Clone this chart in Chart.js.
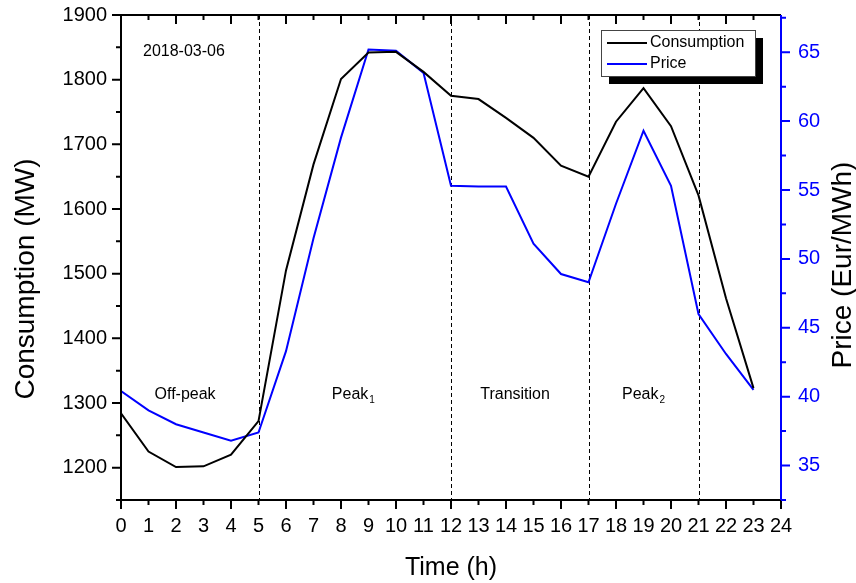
<!DOCTYPE html>
<html>
<head>
<meta charset="utf-8">
<script src="https://cdn.jsdelivr.net/npm/chart.js@4.4.1/dist/chart.umd.min.js"></script>
<style>
  html, body { margin: 0; padding: 0; background: #fff; }
  #wrap { width: 856px; height: 583px; }
</style>
</head>
<body>
<div id="wrap"><canvas id="c" width="856" height="583"></canvas></div>
<script>
// hourly data, 2018-03-06
var hours = [0, 1, 2, 3, 4, 5, 6, 7, 8, 9, 10, 11, 12, 13, 14, 15, 16, 17, 18, 19, 20, 21, 22, 23];
var consumption = [1284, 1225, 1201, 1202, 1220, 1272, 1505, 1669, 1801, 1842, 1843, 1812, 1775, 1770, 1741, 1710, 1667, 1650, 1735, 1787, 1728, 1621, 1462, 1323];
var price = [40.4, 39.0, 38.0, 37.4, 36.8, 37.4, 43.3, 51.5, 58.8, 65.2, 65.1, 63.5, 55.3, 55.25, 55.25, 51.1, 48.9, 48.3, 54.0, 59.3, 55.3, 46.0, 43.1, 40.5];

var xTicks = [0, 1, 2, 3, 4, 5, 6, 7, 8, 9, 10, 11, 12, 13, 14, 15, 16, 17, 18, 19, 20, 21, 22, 23, 24];
var consTicks = [1200, 1300, 1400, 1500, 1600, 1700, 1800, 1900];
var priceTicks = [35, 40, 45, 50, 55, 60, 65];
var periodBounds = [5, 12, 17, 21];
var periodNames = ['Off-peak', 'Peak', 'Transition', 'Peak'];
var periodSubs = ['', '1', '', '2'];
var dateLabel = '2018-03-06';
var leftTitle = 'Consumption (MW)';
var rightTitle = 'Price (Eur/MWh)';

var FONT = 'Arial, "Liberation Sans", sans-serif';

function pts(vals) {
  return hours.map(function (h, i) { return { x: h, y: vals[i] }; });
}

function fixTicks(list) {
  return function (scale) {
    scale.ticks = list.map(function (v) { return { value: v }; });
  };
}

function plain(v) { return String(v); }

// fixed scale sizes, no extra label padding so the plot box lands where the original has it
function fitV(w) {
  return function (s) { s.width = w; s.paddingTop = 0; s.paddingBottom = 0; };
}
function fitH(hgt) {
  return function (s) { s.height = hgt; s.paddingLeft = 0; s.paddingRight = 0; };
}

var decor = {
  id: 'decor',
  beforeDatasetsDraw: function (chart) {
    var ctx = chart.ctx, a = chart.chartArea, x = chart.scales.x;
    ctx.save();
    ctx.strokeStyle = '#000';
    ctx.lineWidth = 1;
    ctx.setLineDash([4, 3]);
    periodBounds.forEach(function (b) {
      var px = Math.round(x.getPixelForValue(b)) + 0.5;
      ctx.beginPath();
      ctx.moveTo(px, a.top);
      ctx.lineTo(px, a.bottom);
      ctx.stroke();
    });
    ctx.restore();
  },
  afterDraw: function (chart) {
    var ctx = chart.ctx, a = chart.chartArea;
    var x = chart.scales.x, y = chart.scales.y, y1 = chart.scales.y1;
    ctx.save();
    ctx.setLineDash([]);
    ctx.lineWidth = 2;

    // frame: bottom, top, left in black
    ctx.strokeStyle = '#000';
    ctx.beginPath();
    ctx.moveTo(a.left, a.bottom); ctx.lineTo(a.right, a.bottom);
    ctx.moveTo(a.left, a.top); ctx.lineTo(a.right, a.top);
    ctx.moveTo(a.left, a.top); ctx.lineTo(a.left, a.bottom);
    ctx.stroke();

    // x ticks: bottom outward, top inward
    ctx.beginPath();
    for (var h = 0; h <= 24; h++) {
      var px = x.getPixelForValue(h);
      var len = h % 2 === 0 ? 9 : 5;
      ctx.moveTo(px, a.bottom); ctx.lineTo(px, a.bottom + len);
      ctx.moveTo(px, a.top); ctx.lineTo(px, a.top + len);
    }
    // left ticks outward
    for (var v = 1150; v <= 1900; v += 50) {
      var py = y.getPixelForValue(v);
      var l2 = v % 100 === 0 ? 9 : 5;
      ctx.moveTo(a.left, py); ctx.lineTo(a.left - l2, py);
    }
    ctx.stroke();

    // right axis in blue
    ctx.strokeStyle = '#0000ff';
    ctx.beginPath();
    ctx.moveTo(a.right, a.top); ctx.lineTo(a.right, a.bottom);
    for (var p = 32.5; p <= 67.7; p += 2.5) {
      var py2 = y1.getPixelForValue(p);
      var l3 = p % 5 === 0 ? 9 : 5;
      ctx.moveTo(a.right, py2); ctx.lineTo(a.right + l3, py2);
    }
    ctx.stroke();

    // vertical axis titles, both reading bottom to top
    ctx.fillStyle = '#000';
    ctx.textAlign = 'center';
    ctx.textBaseline = 'middle';
    ctx.font = '28px ' + FONT;
    ctx.save();
    ctx.translate(26, 279);
    ctx.rotate(-Math.PI / 2);
    ctx.fillText(leftTitle, 0, 0);
    ctx.restore();
    ctx.save();
    ctx.translate(843, 265);
    ctx.rotate(-Math.PI / 2);
    ctx.fillText(rightTitle, 0, 0);
    ctx.restore();

    // texts inside the plot
    ctx.font = '16px ' + FONT;
    ctx.textAlign = 'left';
    ctx.fillText(dateLabel, x.getPixelForValue(0.8), y.getPixelForValue(1843));

    var centers = [2.33, 8.45, 14.33, 19.0];
    var ly = y.getPixelForValue(1313);
    periodNames.forEach(function (name, i) {
      ctx.font = '16px ' + FONT;
      var w = ctx.measureText(name).width;
      ctx.font = '10px ' + FONT;
      var ws = periodSubs[i] ? ctx.measureText(periodSubs[i]).width + 1 : 0;
      var sx = x.getPixelForValue(centers[i]) - (w + ws) / 2;
      ctx.font = '16px ' + FONT;
      ctx.fillText(name, sx, ly);
      if (periodSubs[i]) {
        ctx.font = '10px ' + FONT;
        ctx.fillText(periodSubs[i], sx + w + 1, ly + 6);
      }
    });

    // legend box with shadow
    var bx = a.right - 180, by = a.top + 15, bw = 154, bh = 46;
    ctx.fillStyle = '#000';
    ctx.fillRect(bx + 8, by + 8, bw, bh);
    ctx.fillStyle = '#fff';
    ctx.fillRect(bx, by, bw, bh);
    ctx.strokeStyle = '#444';
    ctx.lineWidth = 1;
    ctx.strokeRect(bx + 0.5, by + 0.5, bw, bh);
    chart.data.datasets.forEach(function (ds, i) {
      var ry = by + 13 + i * 21;
      ctx.strokeStyle = ds.borderColor;
      ctx.lineWidth = 2;
      ctx.beginPath();
      ctx.moveTo(bx + 6, ry); ctx.lineTo(bx + 46, ry);
      ctx.stroke();
      ctx.fillStyle = '#000';
      ctx.font = '16px ' + FONT;
      ctx.textAlign = 'left';
      ctx.fillText(ds.label, bx + 49, ry);
    });
    ctx.restore();
  }
};

new Chart(document.getElementById('c'), {
  type: 'line',
  data: {
    datasets: [
      { label: 'Consumption', data: pts(consumption), yAxisID: 'y', borderColor: '#000000', borderWidth: 2, pointRadius: 0, tension: 0, fill: false },
      { label: 'Price', data: pts(price), yAxisID: 'y1', borderColor: '#0000ff', borderWidth: 2, pointRadius: 0, tension: 0, fill: false }
    ]
  },
  options: {
    responsive: false,
    animation: false,
    devicePixelRatio: 1,
    layout: { padding: { top: 15, left: 0, right: 0, bottom: 0 } },
    plugins: { legend: { display: false }, tooltip: { enabled: false } },
    scales: {
      x: {
        type: 'linear', min: 0, max: 24,
        afterBuildTicks: fixTicks(xTicks),
        afterFit: fitH(83),
        grid: { display: false, drawTicks: false },
        border: { display: false },
        ticks: { color: '#000', padding: 14, maxRotation: 0, autoSkip: false, callback: plain, font: { family: FONT, size: 20 } },
        title: { display: true, text: 'Time (h)', color: '#000', padding: 0, font: { family: FONT, size: 25 } }
      },
      y: {
        position: 'left', min: 1150, max: 1900,
        afterBuildTicks: fixTicks(consTicks),
        afterFit: fitV(121),
        grid: { display: false, drawTicks: false },
        border: { display: false },
        ticks: { color: '#000', padding: 14, callback: plain, font: { family: FONT, size: 20 } },
        title: { display: false }
      },
      y1: {
        position: 'right', min: 32.5, max: 67.7,
        afterBuildTicks: fixTicks(priceTicks),
        afterFit: fitV(75),
        grid: { display: false, drawTicks: false },
        border: { display: false },
        ticks: { color: '#0000ff', padding: 17, callback: plain, font: { family: FONT, size: 20 } },
        title: { display: false }
      }
    }
  },
  plugins: [decor]
});
</script>
</body>
</html>
